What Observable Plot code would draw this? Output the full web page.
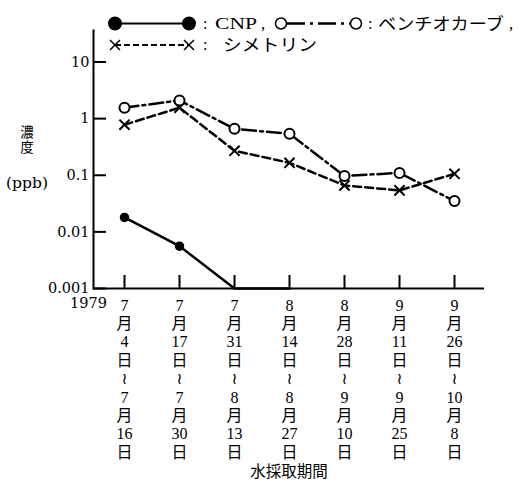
<!DOCTYPE html>
<html><head><meta charset="utf-8">
<script src="https://cdn.jsdelivr.net/npm/d3@7"></script>
<script src="https://cdn.jsdelivr.net/npm/@observablehq/plot@0.6"></script>
<style>
body{margin:0;background:#fff;}
#wrap{position:relative;width:518px;height:489px;}
#legend{position:absolute;left:0;top:0;pointer-events:none;}
</style></head><body><div id="wrap"></div>
<script>
// sampling periods (start month/day ~ end month/day), 1979
const startMonth = [7, 7, 7, 8, 8, 9, 9];
const startDay   = [4, 17, 31, 14, 28, 11, 26];
const endMonth   = [7, 7, 8, 8, 9, 9, 10];
const endDay     = [16, 30, 13, 27, 10, 25, 8];
// concentrations (ppb)
const cnp         = [0.018, 0.0056, 0.001, 0.001, null, null, null];
const benthiocarb = [1.56, 2.1, 0.66, 0.54, 0.097, 0.11, 0.035];
const simetryn    = [0.78, 1.56, 0.27, 0.166, 0.066, 0.054, 0.106];
const yTicks = [0.001, 0.01, 0.1, 1, 10];
const yTickLabels = ["0.001", "0.01", "0.1", "1", "10"];
const year = "1979";
const xTitle = "水採取期間";
const yTitleChars = ["濃", "度"];
const yUnit = "(ppb)";

const periods = startMonth.map((m, i) =>
  `${m}\n月\n${startDay[i]}\n日\n≀\n${endMonth[i]}\n月\n${endDay[i]}\n日`);
const data = periods.map((p, i) => ({period: p, cnp: cnp[i], benthiocarb: benthiocarb[i], simetryn: simetryn[i]}));

const serif = "'Liberation Serif','DejaVu Serif','Times New Roman','Noto Sans CJK JP',serif";
const tickFont = "'Liberation Serif','DejaVu Sans','Noto Sans CJK JP',serif";
const wide = "'DejaVu Serif','Liberation Serif',serif";
const cjk = "'Noto Sans CJK JP'";

const chart = Plot.plot({
  width: 518, height: 489,
  marginLeft: 93, marginRight: 34, marginTop: 30, marginBottom: 201,
  x: {type: "point", domain: periods, padding: 0.5},
  y: {type: "log", domain: [0.001, 36]},
  style: {fontFamily: serif, fontSize: "16px", color: "#000", background: "#fff", overflow: "visible"},
  marks: [
    Plot.frame({anchor: "left", strokeWidth: 2}),
    Plot.ruleY([0.001], {strokeWidth: 2}),
    // y axis: inward ticks + labels
    Plot.axisY({ticks: yTicks, tickSize: -13, strokeWidth: 2, fill: "none", label: null}),
    Plot.text(yTicks, {y: d => d, text: (d, i) => yTickLabels[i], frameAnchor: "left", textAnchor: "end",
      dx: -4, fontSize: 14.5, fontFamily: wide}),
    // x axis: inward ticks, stacked date labels, title
    Plot.axisX({tickSize: -13, strokeWidth: 2, fill: "none", label: null}),
    Plot.text(data, {x: "period", text: "period", frameAnchor: "bottom", lineAnchor: "top", dy: 9,
      lineHeight: 1.15, fontSize: 16, fontFamily: tickFont}),
    Plot.text([xTitle], {text: d => d, frameAnchor: "bottom", lineAnchor: "middle", dy: 184,
      fontSize: 15.5, fontFamily: cjk}),
    // series
    Plot.line(data, {x: "period", y: "cnp", strokeWidth: 2.5}),
    Plot.line(data, {x: "period", y: "simetryn", strokeWidth: 2.5, strokeDasharray: "8,4"}),
    Plot.line(data, {x: "period", y: "benthiocarb", strokeWidth: 2.5, strokeDasharray: "14,4,3,4"}),
    Plot.dot(data.filter(d => d.cnp > 0.001), {x: "period", y: "cnp", r: 4, fill: "black", stroke: "black"}),
    Plot.dot(data, {x: "period", y: "simetryn", symbol: "times", r: 4.7, stroke: "black", strokeWidth: 2}),
    Plot.dot(data, {x: "period", y: "benthiocarb", r: 5, fill: "white", stroke: "black", strokeWidth: 2})
  ]
});
const wrap = document.getElementById("wrap");
wrap.appendChild(chart);

// overlay: legend and side labels
const lg = d3.select(wrap).append("svg").attr("id", "legend").attr("width", 518).attr("height", 489);
const txt = (x, y, s, fam, size, len) => {
  const t = lg.append("text").attr("x", x).attr("y", y).attr("font-family", fam).attr("font-size", size).text(s);
  if (len) t.attr("textLength", len).attr("lengthAdjust", "spacingAndGlyphs");
  return t;
};
// y title and unit, year
yTitleChars.forEach((c, i) => txt(27, 131 + i * 15, c, cjk, 13.5).attr("text-anchor", "middle")
  .attr("dominant-baseline", "central"));
txt(27, 183, yUnit, wide, 15.5).attr("text-anchor", "middle").attr("dominant-baseline", "central");
txt(107, 302.5, year, wide, 14.5).attr("text-anchor", "end").attr("dominant-baseline", "central");

const y1 = 23.5, y2 = 45;
lg.append("line").attr("x1", 115).attr("x2", 189).attr("y1", y1).attr("y2", y1).attr("stroke", "black").attr("stroke-width", 2);
lg.selectAll(".fc").data([115, 189]).join("circle").attr("cx", d => d).attr("cy", y1).attr("r", 7).attr("fill", "black");
txt(203, y1 + 5, ":", serif, 16);
txt(215, y1 + 5.5, "CNP", serif, 17, 42);
txt(261, y1 + 5.5, ",", serif, 17);
lg.append("line").attr("x1", 287).attr("x2", 350).attr("y1", y1).attr("y2", y1).attr("stroke", "black")
  .attr("stroke-width", 2.5).attr("stroke-dasharray", "18,5,3,5");
lg.selectAll(".oc").data([281, 356]).join("circle").attr("cx", d => d).attr("cy", y1).attr("r", 5.5)
  .attr("fill", "white").attr("stroke", "black").attr("stroke-width", 1.5);
txt(368, y1 + 5, ":", serif, 16);
txt(378, y1 + 6, "ベンチオカーブ", cjk, 17, 126);
txt(509, y1 + 5.5, ",", serif, 17);
lg.append("line").attr("x1", 115).attr("x2", 189).attr("y1", y2).attr("y2", y2).attr("stroke", "black")
  .attr("stroke-width", 2).attr("stroke-dasharray", "6,3");
lg.selectAll(".xm").data([115, 189]).join("path")
  .attr("d", d => `M${d - 5},${y2 - 5}L${d + 5},${y2 + 5}M${d - 5},${y2 + 5}L${d + 5},${y2 - 5}`)
  .attr("stroke", "black").attr("stroke-width", 1.5).attr("fill", "none");
txt(203, y2 + 5, ":", serif, 16);
txt(223, y2 + 6, "シメトリン", cjk, 17, 94);
</script></body></html>
